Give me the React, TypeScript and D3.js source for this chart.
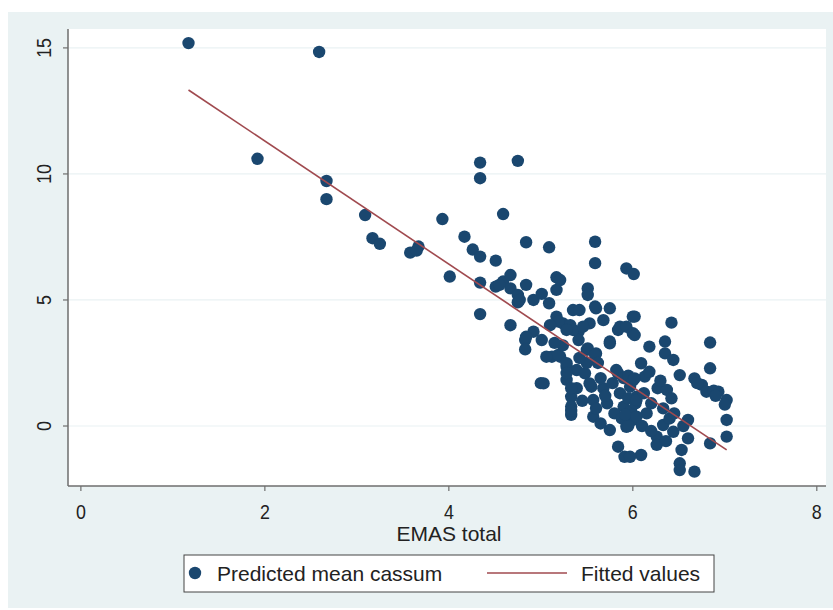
import React from 'react';
import * as d3 from 'd3';

// EMAS total (x) and predicted mean cassum (y)
const emasTotal = [
  1.17, 2.59, 1.92, 2.67, 2.67, 3.09, 3.17, 3.25, 3.58, 3.67, 3.65, 3.93, 4.01, 4.17, 4.26, 4.34, 4.51,
  4.34, 4.34, 4.75, 4.59, 4.84, 5.09, 5.59, 5.59, 5.93, 6.01, 4.34, 4.34,
  4.51, 4.59, 4.67, 4.67, 4.75, 4.75, 4.84, 4.92, 5.01, 5.09, 5.17, 5.17, 5.51, 5.51, 5.59, 5.35, 5.17,
  4.55, 4.77, 5.21, 5.24, 5.42, 5.6, 5.75, 5.68, 5.53, 5.19, 5.1, 5.32, 5.41, 5.41, 4.67, 4.83, 4.92,
  5.01, 4.83, 4.84, 5.12, 5.21, 5.28, 5.5, 5.6, 5.75, 5.84, 5.86, 5.93, 6.0, 6.0, 6.02, 5.35, 5.46, 5.28,
  5.06, 5.19, 5.03, 5.28, 5.28, 5.33, 5.33, 5.33, 5.39, 5.39, 5.28, 5.33, 5.33, 5.51, 5.59, 5.48, 5.55,
  5.57, 5.57, 5.68, 5.72, 5.75, 5.84, 5.86, 5.9, 5.93, 5.97, 6.04, 6.0, 6.09, 6.13, 5.84, 5.91, 6.09,
  5.75, 5.53, 5.82, 5.62, 5.65, 5.7, 5.8, 5.9, 5.95, 5.95, 5.88, 5.98, 6.03, 6.0, 5.95, 5.92, 5.45, 5.6,
  5.65, 5.78, 5.5, 5.42, 5.24, 5.15, 5.0,
  6.42, 6.84, 6.84, 6.02, 6.18, 6.35, 6.35, 6.44, 6.18, 6.02, 6.51, 6.67, 6.75, 6.8, 6.93, 7.02, 7.0,
  7.02, 7.02, 6.84, 6.6, 6.27, 6.37, 6.42, 6.33, 6.15, 6.33, 6.44, 6.26, 6.26, 6.6, 6.53, 6.51, 6.51,
  6.67, 5.97, 6.04, 6.04, 6.7, 6.88, 6.2, 6.3, 6.12, 6.1, 6.2, 6.4, 6.45, 6.36, 6.55, 6.9,
];
const predictedMean = [
  15.19, 14.84, 10.6, 9.72, 9.0, 8.37, 7.45, 7.23, 6.88, 7.12, 6.96, 8.21, 5.93, 7.51, 7.0, 6.72, 6.56,
  10.45, 9.83, 10.52, 8.41, 7.29, 7.09, 7.31, 6.46, 6.25, 6.03, 5.69, 4.44,
  5.53, 5.73, 5.99, 5.46, 5.2, 4.91, 5.6, 5.0, 5.24, 4.87, 5.9, 5.4, 5.46, 5.2, 4.74, 4.6, 4.34,
  5.6, 5.0, 5.79, 4.07, 4.6, 4.67, 4.67, 4.2, 4.07, 4.14, 4.0, 4.0, 3.74, 3.41, 4.0, 3.41, 3.74,
  3.41, 3.04, 3.54, 2.75, 2.75, 2.35, 3.02, 2.88, 3.35, 3.81, 3.94, 3.94, 3.68, 4.34, 3.61, 3.81, 3.94, 3.81,
  2.75, 2.82, 1.69, 2.49, 1.83, 1.16, 0.77, 0.44, 2.22, 1.5, 2.1, 1.5, 0.6, 3.08, 2.82, 2.09, 1.56,
  1.03, 0.37, 1.5, 0.9, -0.16, 2.09, 1.3, 0.77, -0.03, 1.56, 1.16, 0.24, 2.49, 1.96, -0.82, -1.22, -1.15,
  3.28, 1.69, 2.22, 2.5, 1.9, 1.2, 0.5, 1.9, 2.0, 1.1, 0.3, 0.6, 0.9, 1.8, 0.0, 0.45, 1.0, 0.7,
  0.1, 1.7, 2.5, 2.7, 3.2, 3.3, 1.7,
  4.1, 3.31, 2.29, 4.34, 3.15, 3.35, 2.88, 2.62, 2.15, 1.89, 2.02, 1.89, 1.63, 1.36, 1.36, 1.03, 0.85,
  0.24, -0.42, -0.69, 0.24, 1.5, 1.43, 1.1, 0.7, 0.5, 0.04, -0.23, -0.42, -0.75, -0.49, -0.95, -1.48, -1.75,
  -1.81, -1.22, 1.03, 0.37, 1.7, 1.4, 0.9, 1.8, 1.3, 0.0, -0.2, 0.3, 0.5, -0.6, 0.0, 1.2,
];

// end points of the fitted line
const fitX = [1.17, 7.02];
const fitY = [13.33, -0.95];

const xTicks = [0, 2, 4, 6, 8];
const yTicks = [0, 5, 10, 15];

const W = 833;
const H = 610;
const left = 68, right = 826, top = 29, bottom = 486;

const navy = '#1a476f';
const maroon = '#a04a4f';
const bg = '#eaf2f3';
const ink = '#222';
const font = '"Liberation Sans", Arial, sans-serif';

export default function App() {
  const x = d3.scaleLinear().domain([-0.14, 8.1]).range([left, right]);
  const y = d3.scaleLinear().domain([-2.38, 15.75]).range([bottom, top]);
  const fitLine = d3.line<number>().x((d) => x(d)).y((d, i) => y(fitY[i]));

  return (
    <svg width={W} height={H} style={{ position: 'absolute', left: 0, top: 0 }} fontFamily={font}>
      <rect x={8} y={12} width={W - 8} height={H - 14} fill={bg} />
      <rect x={left} y={top} width={right - left} height={bottom - top} fill="#fff" />

      {/* grid */}
      {yTicks.map((t) => (
        <line key={'g' + t} x1={left} x2={right} y1={y(t)} y2={y(t)} stroke={bg} strokeWidth={1.2} />
      ))}

      {/* points */}
      {emasTotal.map((v, i) => (
        <circle key={i} cx={x(v)} cy={y(predictedMean[i])} r={6.2} fill={navy} />
      ))}

      <path d={fitLine(fitX) || ''} fill="none" stroke={maroon} strokeWidth={1.6} />

      {/* y axis */}
      <line x1={left} x2={left} y1={top} y2={bottom} stroke="#6e6e6e" strokeWidth={1.5} />
      {yTicks.map((t) => (
        <g key={'y' + t}>
          <line x1={left - 5} x2={left} y1={y(t)} y2={y(t)} stroke="#6e6e6e" strokeWidth={1.2} />
          <text
            transform={`translate(51,${y(t)}) rotate(-90) scale(0.85,1)`}
            textAnchor="middle"
            fontSize={21}
            fill={ink}
          >
            {t}
          </text>
        </g>
      ))}

      {/* x axis */}
      <line x1={left} x2={right} y1={bottom} y2={bottom} stroke="#6e6e6e" strokeWidth={1.5} />
      {xTicks.map((t) => (
        <g key={'x' + t}>
          <line x1={x(t)} x2={x(t)} y1={bottom} y2={bottom + 5} stroke="#6e6e6e" strokeWidth={1.2} />
          <text
            transform={`translate(${x(t)},519) scale(0.85,1)`}
            textAnchor="middle"
            fontSize={21}
            fill={ink}
          >
            {t}
          </text>
        </g>
      ))}
      <text x={(left + right) / 2 + 2} y={541} textAnchor="middle" fontSize={21} fill={ink}>
        EMAS total
      </text>

      {/* legend */}
      <rect x={184} y={555} width={530} height={37} fill="#fff" stroke="#444" strokeWidth={1} />
      <circle cx={195} cy={573} r={6.2} fill={navy} />
      <text x={217} y={581} fontSize={21} fill={ink}>
        Predicted mean cassum
      </text>
      <line x1={487} x2={567} y1={573} y2={573} stroke={maroon} strokeWidth={1.6} />
      <text x={581} y={581} fontSize={21} fill={ink}>
        Fitted values
      </text>
    </svg>
  );
}
